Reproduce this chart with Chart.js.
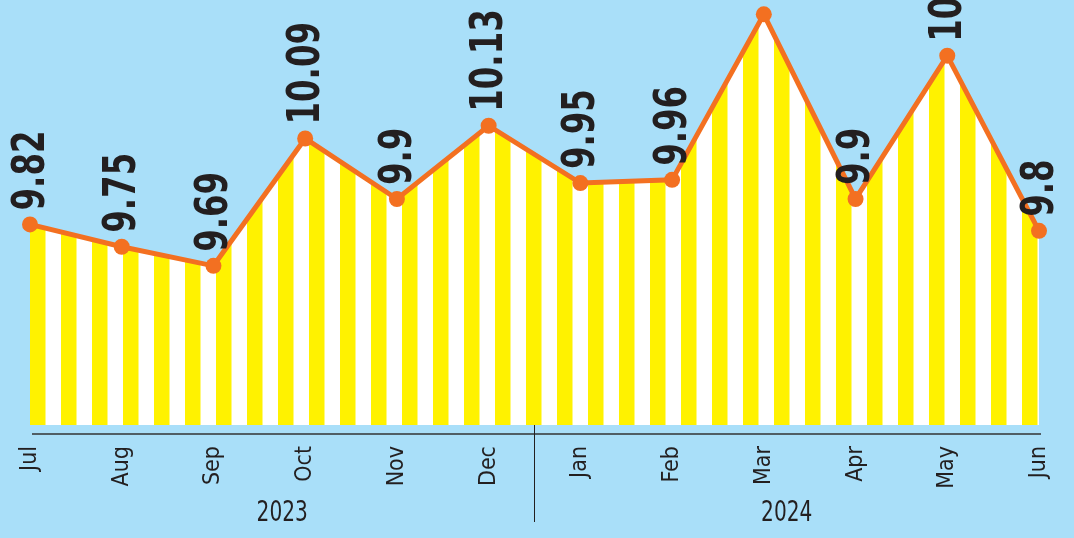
<!DOCTYPE html>
<html lang="en">
<head>
<meta charset="UTF-8">
<title>Monthly values 2023-2024</title>
<script src="https://cdn.jsdelivr.net/npm/chart.js"></script>
<style>
    html, body { margin: 0; padding: 0; background: #a9dff9; }
    .wrap { width: 1074px; height: 538px; position: relative; }
</style>
</head>
<body>
<div class="wrap"><canvas id="grafico"></canvas></div>
<script>
const months = ['Jul', 'Aug', 'Sep', 'Oct', 'Nov', 'Dec', 'Jan', 'Feb', 'Mar', 'Apr', 'May', 'Jun'];
const values = [9.82, 9.75, 9.69, 10.09, 9.9, 10.13, 9.95, 9.96, 10.48, 9.9, 10.35, 9.8];
const years = ['2023', '2024'];
const yearStarts = [0, 6];

const ORANGE = '#f37021';
const YELLOW = '#fff200';
const INK = '#231f20';
const NARROW = "'DejaVu Sans Condensed', 'Liberation Sans Narrow', sans-serif";

function stripes(chart) {
    const area = chart.chartArea;
    if (!area) return YELLOW;
    const c = document.createElement('canvas');
    c.width = 31; c.height = 8;
    const g = c.getContext('2d');
    g.fillStyle = '#ffffff'; g.fillRect(0, 0, 31, 8);
    g.fillStyle = YELLOW; g.fillRect(0, 0, 15.5, 8);
    const p = chart.ctx.createPattern(c, 'repeat');
    p.setTransform(new DOMMatrix().translate(area.left, 0));
    return p;
}

const extras = {
    id: 'extras',
    afterDatasetsDraw(chart) {
        const ctx = chart.ctx;
        const x = chart.scales.x;
        const area = chart.chartArea;
        const axisY = area.bottom + 9;

        // baseline
        ctx.save();
        ctx.strokeStyle = '#333';
        ctx.lineWidth = 1.5;
        ctx.beginPath();
        ctx.moveTo(x.getPixelForValue(0) + 2, axisY);
        ctx.lineTo(x.getPixelForValue(months.length - 1) + 2, axisY);
        ctx.stroke();

        // year separators and labels
        const edges = yearStarts.map((s, i) => i === 0 ? x.getPixelForValue(0)
            : (x.getPixelForValue(s - 1) + x.getPixelForValue(s)) / 2);
        edges.push(x.getPixelForValue(months.length - 1));
        ctx.strokeStyle = INK;
        ctx.lineWidth = 1;
        for (let i = 1; i < yearStarts.length; i++) {
            ctx.beginPath();
            ctx.moveTo(edges[i], area.bottom);
            ctx.lineTo(edges[i], 522);
            ctx.stroke();
        }
        ctx.fillStyle = INK;
        ctx.font = '28px ' + NARROW;
        ctx.textAlign = 'center';
        ctx.textBaseline = 'middle';
        years.forEach((yr, i) => {
            ctx.save();
            ctx.translate((edges[i] + edges[i + 1]) / 2, 514);
            ctx.scale(0.8, 1);
            ctx.fillText(yr, 0, 0);
            ctx.restore();
        });

        // value labels
        const meta = chart.getDatasetMeta(0);
        ctx.font = 'bold 45px ' + NARROW;
        ctx.textAlign = 'left';
        ctx.textBaseline = 'middle';
        meta.data.forEach((pt, i) => {
            ctx.save();
            ctx.translate(pt.x + 2, pt.y - 14);
            ctx.rotate(-Math.PI / 2);
            ctx.scale(0.8, 1);
            ctx.fillText(String(values[i]), 0, 0);
            ctx.restore();
        });
        ctx.restore();
    }
};

new Chart(document.getElementById('grafico'), {
    type: 'line',
    data: {
        labels: months,
        datasets: [{
            data: values,
            borderColor: ORANGE,
            borderWidth: 5,
            backgroundColor: (c) => stripes(c.chart),
            fill: 'start',
            tension: 0,
            pointRadius: 8,
            pointHoverRadius: 8,
            pointBackgroundColor: ORANGE,
            pointBorderWidth: 0
        }]
    },
    options: {
        responsive: true,
        maintainAspectRatio: false,
        animation: false,
        layout: { autoPadding: false, padding: { left: 30, right: 35, top: 0, bottom: 0 } },
        plugins: { legend: { display: false }, tooltip: { enabled: false } },
        scales: {
            x: {
                grid: { display: false },
                border: { display: false },
                ticks: {
                    color: INK,
                    font: { family: NARROW, size: 23 },
                    minRotation: 90,
                    maxRotation: 90,
                    autoSkip: false,
                    padding: 13
                },
                afterFit(scale) {
                    scale.height = 113;
                    scale.paddingLeft = 0;
                    scale.paddingRight = 0;
                }
            },
            y: { display: false, min: 9.19, max: 10.525 }
        }
    },
    plugins: [extras]
});
</script>
</body>
</html>
